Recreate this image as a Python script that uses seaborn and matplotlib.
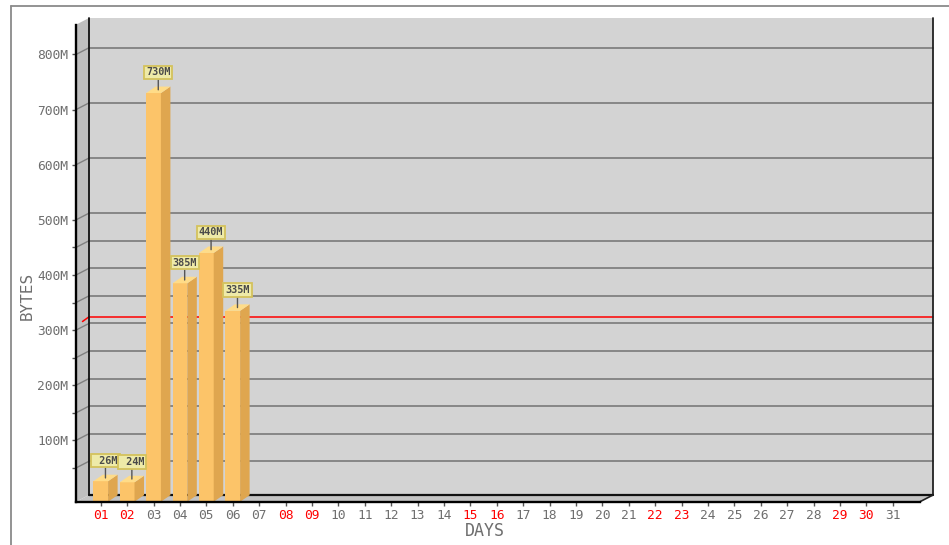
import numpy as np
import pandas as pd
import matplotlib
matplotlib.use("Agg")
import matplotlib.pyplot as plt
from matplotlib.patches import Polygon, Rectangle
from matplotlib.lines import Line2D
import seaborn as sns

# ---- data ----
days = [f"{d:02d}" for d in range(1, 32)]
weekend_days = ["01", "02", "08", "09", "15", "16", "22", "23", "29", "30"]
bar_days = ["01", "02", "03", "04", "05", "06"]
bar_values = [26, 24, 730, 385, 440, 335]          # megabytes per day
average_value = 312                                # red reference line (MB)
y_major = [100, 200, 300, 400, 500, 600, 700, 800]
y_major_labels = ["100M", "200M", "300M", "400M", "500M", "600M", "700M", "800M"]
y_minor = [50, 150, 250, 350, 450]
y_grid = [50, 100, 150, 200, 250, 300, 350, 400, 450, 500, 600, 700, 800]

# ---- style ----
sns.set_theme(style="white")
plt.rcParams["font.family"] = ["DejaVu Sans Mono", "DejaVu Sans"]

FRONT = "#FCC469"
SIDE = "#DFA64F"
TOP = "#FFDC88"
WALL = "#D3D3D3"
SIDEWALL = "#BFBFBF"
FLOOR = "#C4C4C4"
GRID = "#808080"
TXT = "#6E6E6E"

W, H = 949, 545
fig = plt.figure(figsize=(W / 100, H / 100), dpi=100)
fig.patch.set_facecolor("white")

# front plane of the 3D box, in pixels
L, R, B, T = 76, 920, 501.7, 24.7
ax = fig.add_axes([L / W, 1 - B / H, (R - L) / W, (B - T) / H])
ax.set_facecolor("none")

df = pd.DataFrame({"day": bar_days, "bytes": bar_values})
sns.barplot(data=df, x="day", y="bytes", order=days, color=FRONT,
            saturation=1, width=0.56, errorbar=None, ax=ax, zorder=4,
            linewidth=0)
bars = list(ax.patches)

x0, x1 = -0.936, 31.03
y0, y1 = -11.2, 854
ax.set_xlim(x0, x1)
ax.set_ylim(y0, y1)

# data units per pixel
sx = (x1 - x0) / (R - L)
sy = (y1 - y0) / (B - T)
wdx, wdy = 13 * sx, 6.7 * sy      # depth of the chart box
bdx, bdy = 9.5 * sx, 6.5 * sy     # depth of each bar


def line(xs, ys, **kw):
    ax.add_line(Line2D(xs, ys, clip_on=False, **kw))


# back wall, side wall and floor
ax.add_patch(Rectangle((x0 + wdx, y0 + wdy), x1 - x0, y1 - y0, fc=WALL,
                       ec="none", zorder=0, clip_on=False))
ax.add_patch(Polygon([(x0, y0), (x0 + wdx, y0 + wdy), (x0 + wdx, y1 + wdy), (x0, y1)],
                     closed=True, fc=SIDEWALL, ec="none", zorder=0.5, clip_on=False))
ax.add_patch(Polygon([(x0, y0), (x1, y0), (x1 + wdx, y0 + wdy), (x0 + wdx, y0 + wdy)],
                     closed=True, fc=FLOOR, ec="none", zorder=0.5, clip_on=False))

# grid lines on the back wall and their slants across the side wall
for g in y_grid:
    line([x0 + wdx, x1 + wdx], [g + wdy, g + wdy], color=GRID, lw=1.3, zorder=1)
    line([x0, x0 + wdx], [g, g + wdy], color=GRID, lw=1.0, zorder=1)

# average line
line([x0 + wdx * 0.5, x0 + wdx], [average_value + wdy * 0.3, average_value + wdy],
     color="#FF0000", lw=1.1, zorder=1.5)
line([x0 + wdx, x1 + wdx], [average_value + wdy, average_value + wdy],
     color="#FF0000", lw=1.1, zorder=1.5)

# box edges
line([x0 + wdx, x0 + wdx], [y0 + wdy, y1 + wdy], color="#111111", lw=1.3, zorder=2)
line([x1 + wdx, x1 + wdx], [y0 + wdy, y1 + wdy], color="#222222", lw=1.3, zorder=2)
line([x0 + wdx, x1 + wdx], [y0 + wdy, y0 + wdy], color="#111111", lw=1.6, zorder=2)
line([x1, x1 + wdx], [y0, y0 + wdy], color="#222222", lw=1.2, zorder=2)

# 3D bars: stretch fronts to the floor and add side and top faces
for p in bars:
    h = p.get_height()
    if not np.isfinite(h):
        continue
    xa = p.get_x()
    xb = xa + p.get_width()
    p.set_y(y0)
    p.set_height(h - y0)
    ax.add_patch(Polygon([(xb, y0), (xb + bdx, y0 + bdy), (xb + bdx, h + bdy), (xb, h)],
                         closed=True, fc=SIDE, ec="none", zorder=4))
    ax.add_patch(Polygon([(xa, h), (xa + bdx, h + bdy), (xb + bdx, h + bdy), (xb, h)],
                         closed=True, fc=TOP, ec="none", zorder=4))
    xc = (xa + xb) / 2
    ax.annotate(f"{int(round(h)):3d}M", xy=(xc + bdx / 2, h + bdy / 2),
                xytext=(0, 12.5), textcoords="offset points",
                ha="center", va="center", fontsize=7.3, fontweight="bold",
                color="#4A4A4A", zorder=6,
                bbox=dict(boxstyle="square,pad=0.18", fc="#EEEAA8", ec="#D4C25C", lw=1.3),
                arrowprops=dict(arrowstyle="-", color="#555555", lw=1.0,
                                shrinkA=0, shrinkB=0))

# front axes
for s in ["top", "right"]:
    ax.spines[s].set_visible(False)
for s in ["left", "bottom"]:
    ax.spines[s].set_visible(True)
    ax.spines[s].set_color("#000000")
    ax.spines[s].set_linewidth(1.7)
    ax.spines[s].set_zorder(5)

ax.set_yticks(y_major)
ax.set_yticklabels(y_major_labels)
ax.set_yticks(y_minor, minor=True)
ax.set_xticks(range(len(days)))
ax.set_xticklabels(days)
ax.tick_params(axis="both", which="both", direction="out", length=3, width=1,
               color="#555555", labelsize=9.3, labelcolor=TXT, pad=2.5,
               left=True, bottom=True)
for lbl in ax.get_xticklabels():
    if lbl.get_text() in weekend_days:
        lbl.set_color("#FF0000")

ax.set_xlabel("DAYS", fontsize=12, color=TXT)
ax.xaxis.set_label_coords((485 - L) / (R - L), -(531.5 - B) / (B - T))
ax.xaxis.label.set_va("center")
ax.set_ylabel("BYTES", fontsize=11.5, color=TXT)
ax.yaxis.set_label_coords((27 - L) / (R - L), (B - 296) / (B - T))
ax.yaxis.label.set_va("center")

# outer frame
fig.add_artist(Line2D([10.5 / W, 10.5 / W], [0, 1 - 5.5 / H], transform=fig.transFigure,
                      color="#8A8A8A", lw=1.3))
fig.add_artist(Line2D([10.5 / W, 1], [1 - 5.5 / H, 1 - 5.5 / H], transform=fig.transFigure,
                      color="#8A8A8A", lw=1.3))

fig.savefig("out.png", dpi=100)
